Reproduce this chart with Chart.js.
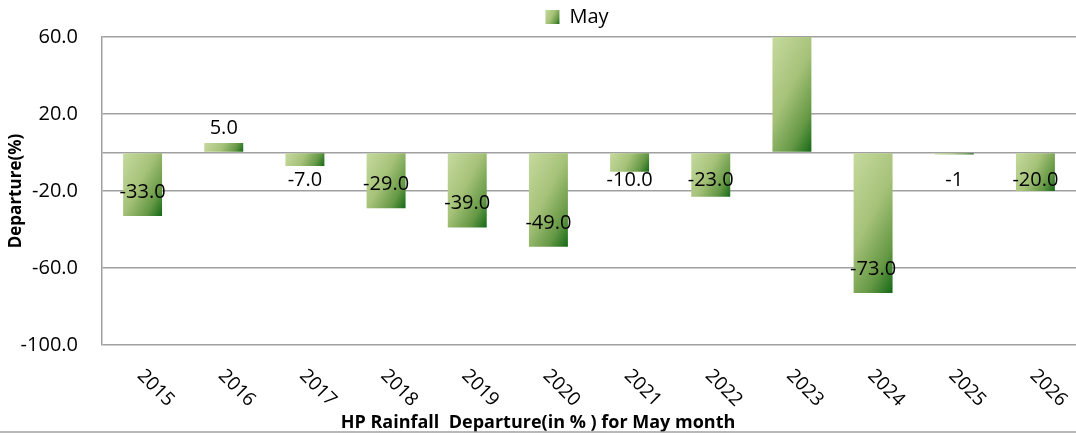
<!DOCTYPE html>
<html>
<head>
<meta charset="utf-8">
<script src="https://cdn.jsdelivr.net/npm/chart.js@4/dist/chart.umd.min.js"></script>
<style>
html,body{margin:0;padding:0;background:#fff;}
#wrap{width:1076px;height:435px;position:relative;}
</style>
</head>
<body>
<div id="wrap"><canvas id="c"></canvas></div>
<script>
// ---- data ----
const categories = ['2015','2016','2017','2018','2019','2020','2021','2022','2023','2024','2025','2026'];
const mayDeparture = [-33, 5, -7, -29, -39, -49, -10, -23, 60, -73, -1, -20];
const valueLabels = ['-33.0','5.0','-7.0','-29.0','-39.0','-49.0','-10.0','-23.0','','-73.0','-1','-20.0'];
const yTickValues = [-100, -60, -20, 20, 60];
const seriesName = 'May';
const xTitleText = 'HP Rainfall  Departure(in % ) for May month';
const yTitleText = 'Departure(%)';

// ---- style ----
const BAR_PCT = 0.48;
const GRID = '#a0a0a0';
const GRAD_ANGLE = 28 * Math.PI / 180;
Chart.defaults.font.family = "'Open Sans', sans-serif";
Chart.defaults.color = '#000';

function greenGradient(ctx, l, t, w, h) {
  if (![l, t, w, h].every(Number.isFinite)) return '#9bbb59';
  const c = Math.cos(GRAD_ANGLE), s = Math.sin(GRAD_ANGLE);
  const len = w * c + h * s;
  const g = ctx.createLinearGradient(l, t, l + c * len, t + s * len);
  g.addColorStop(0, '#c6da9f');
  g.addColorStop(0.45, '#a6c279');
  g.addColorStop(0.78, '#659844');
  g.addColorStop(1, '#146817');
  return g;
}

function barFill(ctx) {
  const chart = ctx.chart;
  const xs = chart.scales.x, ys = chart.scales.y;
  if (!xs || !ys || !chart.chartArea || ctx.type !== 'data') return '#9bbb59';
  const v = ctx.raw;
  const cx = xs.getPixelForValue(ctx.dataIndex);
  const hw = xs.width / categories.length * BAR_PCT / 2;
  let top = ys.getPixelForValue(Math.max(v, 0));
  const bottom = ys.getPixelForValue(Math.min(v, 0));
  top = Math.max(top, chart.chartArea.top);
  return greenGradient(chart.ctx, cx - hw, top, 2 * hw, Math.max(bottom - top, 1));
}

const extras = {
  id: 'extras',
  afterLayout(chart) {
    const lg = chart.legend;
    if (lg) { lg.left += 39; lg.right += 39; }
  },
  afterDatasetsDraw(chart) {
    const ctx = chart.ctx;
    const meta = chart.getDatasetMeta(0);
    const ys = chart.scales.y;
    const zero = ys.getPixelForValue(0);
    ctx.save();
    ctx.font = "20px 'Open Sans', sans-serif";
    ctx.fillStyle = '#000';
    ctx.textAlign = 'center';
    ctx.textBaseline = 'middle';
    meta.data.forEach((bar, i) => {
      const txt = valueLabels[i];
      if (!txt) return;
      const v = mayDeparture[i];
      const end = ys.getPixelForValue(v);
      let y;
      if (v >= 0) y = end - 15;
      else y = Math.max(zero + 28, end - 24);
      ctx.fillText(txt, bar.x, y);
    });
    ctx.restore();
  },
  afterDraw(chart) {
    const ctx = chart.ctx;
    const xs = chart.scales.x;
    const bottom = chart.chartArea.bottom;
    ctx.save();
    ctx.font = "19px 'Open Sans', sans-serif";
    ctx.fillStyle = '#000';
    ctx.textAlign = 'center';
    ctx.textBaseline = 'middle';
    categories.forEach((c, i) => {
      const x = xs.getPixelForValue(i);
      ctx.save();
      ctx.translate(x + 13, bottom + 43);
      ctx.rotate(Math.PI / 4);
      ctx.fillText(c, 0, 0);
      ctx.restore();
    });
    // bottom rule
    ctx.strokeStyle = GRID;
    ctx.lineWidth = 1.5;
    ctx.beginPath();
    ctx.moveTo(0, chart.height - 3);
    ctx.lineTo(chart.width, chart.height - 3);
    ctx.stroke();
    ctx.restore();
  }
};

new Chart(document.getElementById('c'), {
  type: 'bar',
  data: {
    labels: categories,
    datasets: [{
      label: seriesName,
      data: mayDeparture,
      backgroundColor: barFill,
      borderWidth: 0,
      barPercentage: BAR_PCT,
      categoryPercentage: 1.0
    }]
  },
  options: {
    responsive: true,
    maintainAspectRatio: false,
    animation: false,
    devicePixelRatio: 1,
    layout: { padding: { top: 6, left: 0, right: 0, bottom: 0 } },
    plugins: {
      legend: {
        display: true,
        position: 'top',
        labels: {
          boxWidth: 14, boxHeight: 14, padding: 1,
          font: { size: 20 },
          color: '#000',
          generateLabels(chart) {
            let fill = '#8db25a';
            const lg = chart.legend;
            if (lg && Array.isArray(lg.lineWidths) && Number.isFinite(lg.lineWidths[0]) &&
                Number.isFinite(lg.left) && Number.isFinite(lg.right) && Number.isFinite(lg.top) &&
                lg.right > lg.left) {
              const pad = 1;
              const x0 = (lg.left + pad + lg.right - lg.lineWidths[0]) / 2;
              const y0 = lg.top + pad + 3;
              fill = greenGradient(chart.ctx, x0, y0, 14, 14);
            }
            return [{
              text: seriesName, fillStyle: fill, strokeStyle: 'rgba(0,0,0,0)',
              lineWidth: 0, hidden: false, datasetIndex: 0
            }];
          }
        }
      },
      title: {
        display: true,
        position: 'bottom',
        text: xTitleText,
        color: '#000',
        font: { size: 18, weight: 'bold' },
        padding: { top: 0, bottom: 1 }
      },
      tooltip: { enabled: false }
    },
    scales: {
      x: {
        grid: { display: false },
        border: { display: false },
        ticks: { display: false },
        afterFit(s) { s.height = 67.4; }
      },
      y: {
        min: -100,
        max: 60,
        afterBuildTicks(s) {
          s.ticks = yTickValues.concat([0]).sort((a, b) => a - b).map(v => ({ value: v }));
        },
        ticks: {
          font: { size: 20 },
          color: '#000',
          padding: 24,
          callback: v => (v === 0 ? '' : Number(v).toFixed(1))
        },
        grid: { color: GRID, lineWidth: 1.5, drawTicks: false },
        border: { display: true, color: GRID, width: 1.5 },
        title: {
          display: true,
          text: yTitleText,
          color: '#000',
          font: { size: 17, weight: 'bold' },
          padding: { top: 6, bottom: 0 }
        },
        afterFit(s) { s.width = 102; }
      }
    }
  },
  plugins: [extras]
});
</script>
</body>
</html>
